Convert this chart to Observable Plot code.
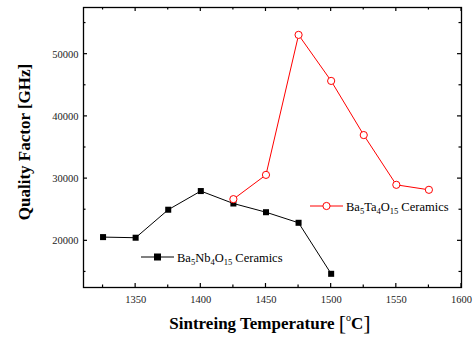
<!DOCTYPE html>
<html><head><meta charset="utf-8">
<script src="https://cdn.jsdelivr.net/npm/d3@7"></script>
<script src="https://cdn.jsdelivr.net/npm/@observablehq/plot@0.6"></script>
<style>body{margin:0;background:#fff}#c{position:relative;width:475px;height:338px}</style>
</head><body><div id="c"></div>
<script>
const nbTemps = [1325, 1350, 1375, 1400, 1425, 1450, 1475, 1500];
const nbQ = [20600, 20500, 25000, 28000, 26000, 24600, 22900, 14700];
const taTemps = [1425, 1450, 1475, 1500, 1525, 1550, 1575];
const taQ = [26700, 30600, 53100, 45700, 37000, 29000, 28200];
const xTicks = [1350, 1400, 1450, 1500, 1550, 1600];
const xMinor = [1325, 1375, 1425, 1475, 1525, 1575];
const yTicks = [20000, 30000, 40000, 50000];
const yMinor = [15000, 25000, 35000, 45000, 55000];

const nb = nbTemps.map((t, i) => ({t, q: nbQ[i]}));
const ta = taTemps.map((t, i) => ({t, q: taQ[i]}));

const W = 475, H = 338, mt = 7, mb = 51, ml = 83, mr = 14;
const font = "Liberation Serif, Times New Roman, serif";

const chart = Plot.plot({
  width: W, height: H,
  marginTop: mt, marginBottom: mb, marginLeft: ml, marginRight: mr,
  style: {fontFamily: font, background: "#fff"},
  x: {domain: [1310, 1600]},
  y: {domain: [12500, 57500]},
  marks: [
    Plot.axisX(xTicks, {tickSize: 0, tickPadding: 8, fontSize: 10.5, fill: "#222", label: null, tickFormat: d => String(d)}),
    Plot.axisY(yTicks, {tickSize: 0, tickPadding: 5, fontSize: 10.5, fill: "#222", label: null, tickFormat: d => String(d)}),
    Plot.frame({stroke: "#000", strokeWidth: 1.3}),
    Plot.line(nb, {x: "t", y: "q", stroke: "#000", strokeWidth: 1}),
    Plot.dot(nb, {x: "t", y: "q", symbol: "square", r: 3.4, fill: "#000", stroke: "none"}),
    Plot.line(ta, {x: "t", y: "q", stroke: "#ff0000", strokeWidth: 1}),
    Plot.dot(ta, {x: "t", y: "q", symbol: "circle", r: 3.6, fill: "#fff", stroke: "#ff0000", strokeWidth: 1})
  ]
});
document.getElementById("c").appendChild(chart);

const svg = d3.select(chart);
const sx = chart.scale("x"), sy = chart.scale("y");
const x0 = ml, x1 = W - mr, y0 = mt, y1 = H - mb;
const tg = svg.insert("g", ":first-child").attr("stroke", "#000").attr("stroke-width", 1.2);
function xt(vals, len) {
  vals.forEach(v => {
    const px = sx.apply(v);
    tg.append("line").attr("x1", px).attr("x2", px).attr("y1", y1).attr("y2", y1 - len);
    tg.append("line").attr("x1", px).attr("x2", px).attr("y1", y0).attr("y2", y0 + len);
  });
}
function yt(vals, len) {
  vals.forEach(v => {
    const py = sy.apply(v);
    tg.append("line").attr("y1", py).attr("y2", py).attr("x1", x0).attr("x2", x0 + len);
    tg.append("line").attr("y1", py).attr("y2", py).attr("x1", x1).attr("x2", x1 - len);
  });
}
xt(xTicks, 4); xt(xMinor, 2.5); yt(yTicks, 4); yt(yMinor, 2.5);

const lg = svg.append("g").attr("text-anchor", "start");
function legendText(lx, ly, color, shape, elem) {
  lg.append("line").attr("x1", lx).attr("x2", lx + 33).attr("y1", ly).attr("y2", ly)
    .attr("stroke", color).attr("stroke-width", 1);
  if (shape === "square") {
    lg.append("rect").attr("x", lx + 16.5 - 3.5).attr("y", ly - 3.5).attr("width", 7).attr("height", 7).attr("fill", "#000");
  } else {
    lg.append("circle").attr("cx", lx + 16.5).attr("cy", ly).attr("r", 3.6).attr("fill", "#fff").attr("stroke", color);
  }
  const t = lg.append("text").attr("x", lx + 36).attr("y", ly + 4.5).attr("text-anchor", "start")
    .attr("font-family", font).attr("font-size", 12.5).attr("fill", "#000");
  const seq = [["Ba", 0], ["5", 1], [elem, 0], ["4", 1], ["O", 0], ["15", 1], [" Ceramics", 0]];
  let prev = 0;
  seq.forEach(([s, sub]) => {
    const off = sub ? 3 : 0;
    const ts = t.append("tspan").text(s).attr("dy", off - prev);
    if (sub) ts.attr("font-size", 8.5);
    prev = off;
  });
}
legendText(310, 206, "#ff0000", "circle", "Ta");
legendText(141, 257, "#000", "square", "Nb");

// axis titles
svg.append("text").attr("transform", "translate(30,142) rotate(-90)")
  .attr("text-anchor", "middle").attr("font-family", font).attr("font-weight", "bold")
  .attr("font-size", 17).attr("fill", "#000").text("Quality Factor [GHz]");
const xtt = svg.append("text").attr("x", 270).attr("y", 329)
  .attr("text-anchor", "middle").attr("font-family", font).attr("font-weight", "bold")
  .attr("font-size", 17).attr("fill", "#000");
xtt.append("tspan").text("Sintreing Temperature ");
xtt.append("tspan").text("[").attr("font-size", 22).attr("font-weight", "normal").attr("dy", 1);
xtt.append("tspan").text("o").attr("font-size", 10).attr("font-weight", "normal").attr("dy", -9);
xtt.append("tspan").text("C").attr("dy", 8);
xtt.append("tspan").text("]").attr("font-size", 22).attr("font-weight", "normal").attr("dy", 1);
</script></body></html>
